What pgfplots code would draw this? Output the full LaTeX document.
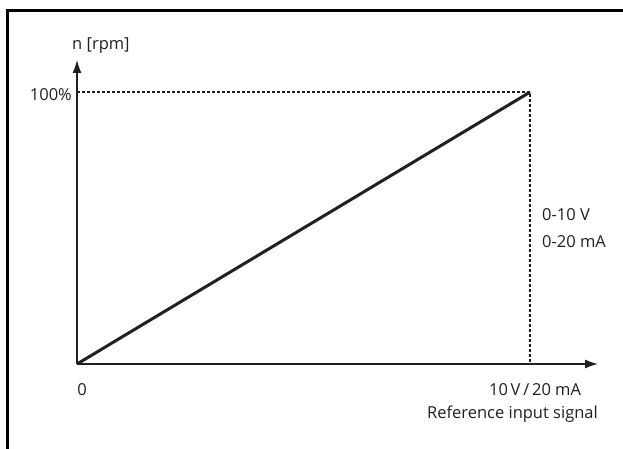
\documentclass[border=0pt]{standalone}
\usepackage{pgfplots}
\pgfplotsset{compat=1.18}
\usepackage{fontspec}
\setmainfont{Open Sans}
\usetikzlibrary{arrows.meta}
\definecolor{ink}{RGB}{35,31,32}
\newcommand{\lbl}{\fontsize{16.5}{19}\selectfont}
\begin{document}
\begin{tikzpicture}[font=\lbl]
\useasboundingbox (-77pt,-84pt) rectangle (546pt,364pt);
\clip (-77pt,-84pt) rectangle (546pt,364pt);
% frame (right and bottom edges fall outside the picture)
\draw[line width=3pt] (-69pt,353pt) rectangle (600pt,-120pt);
\begin{axis}[
  at={(0pt,0pt)}, anchor=origin,
  scale only axis,
  width=521pt, height=304pt,
  xmin=0, xmax=11.5, ymin=0, ymax=111.8,
  axis lines=left,
  axis line style={line width=1.3pt, color=ink},
  x axis line style={-{Latex[length=13pt,width=9pt]}},
  y axis line style={-{Latex[length=13pt,width=9pt]}},
  xtick={0,10}, xticklabels={0,{10\,V\,/\,20 mA}},
  ytick={100}, yticklabels={100\%},
  major tick length=0pt,
  xticklabel style={anchor=base, inner sep=0pt, yshift=-31pt, xshift=5pt, font=\lbl, text=ink},
  yticklabel style={anchor=base east, inner sep=0pt, xshift=-5pt, yshift=-8pt, font=\lbl, text=ink},
  clip=false,
]
\addplot[ink, line width=1.5pt, dash pattern=on 3pt off 2pt] coordinates {(0,100) (10,100) (10,0)};
\addplot[ink, line width=3pt] coordinates {(0,0) (10,100)};
\end{axis}
\node[anchor=base west, inner sep=0pt, ink] at (-5pt,315pt) {n [rpm]};
\node[anchor=base west, inner sep=0pt, ink] at (465pt,144pt) {0-10 V};
\node[anchor=base west, inner sep=0pt, ink] at (465pt,117pt) {0-20 mA};
\node[anchor=base east, inner sep=0pt, ink] at (521pt,-54pt) {Reference input signal};
\end{tikzpicture}
\end{document}
